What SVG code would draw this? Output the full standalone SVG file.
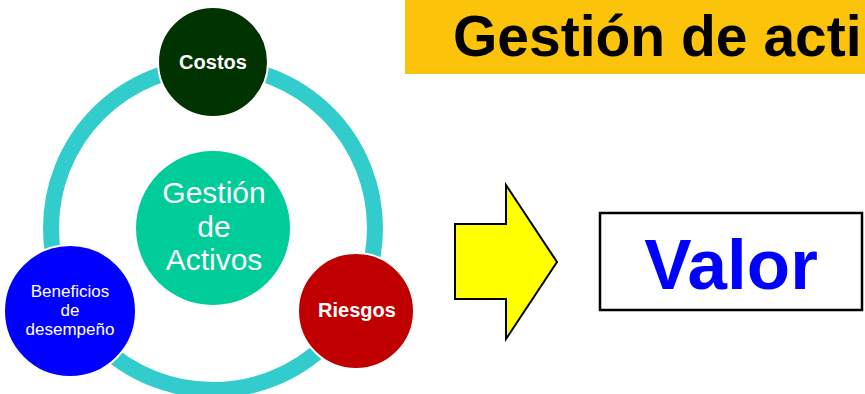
<svg xmlns="http://www.w3.org/2000/svg" width="865" height="394" viewBox="0 0 865 394">
<style>
.t{font-family:"Liberation Sans",Arial,sans-serif;text-anchor:middle}
.w{fill:#fff}
.b{font-weight:bold}
.node{stroke:#fff;stroke-width:2}
</style>
<rect width="865" height="394" fill="#fff"/>
<g id="title">
<rect x="405" y="0" width="460" height="74" fill="#FBC40A"/>
<text x="453" y="56" font-family="Liberation Sans,Arial,sans-serif" font-weight="bold" font-size="57" fill="#000">Gestión de acti</text>
</g>
<g id="connectors">
<circle cx="213" cy="228" r="162" fill="none" stroke="#33CCCC" stroke-width="16"/>
<polygon points="455,224 506,224 506,185 557,262 506,339 506,299 455,299" fill="#FFFF00" stroke="#000" stroke-width="2" stroke-linejoin="miter"/>
</g>
<g id="gestion">
<circle cx="213" cy="228" r="77" fill="#00CC99"/>
<text class="t w" font-size="30"><tspan x="214" y="203">Gestión</tspan><tspan x="214" y="237">de</tspan><tspan x="214" y="270">Activos</tspan></text>
</g>
<g id="costos">
<circle class="node" cx="213" cy="62" r="55" fill="#003300"/>
<text class="t w b" x="213" y="69" font-size="20">Costos</text>
</g>
<g id="riesgos">
<circle class="node" cx="356" cy="311" r="58" fill="#C00000"/>
<text class="t w b" x="357" y="317" font-size="20">Riesgos</text>
</g>
<g id="beneficios">
<circle class="node" cx="70" cy="311" r="66" fill="#0000FF"/>
<text class="t w" font-size="17"><tspan x="70" y="297">Beneficios</tspan><tspan x="70" y="316">de</tspan><tspan x="70" y="335">desempeño</tspan></text>
</g>
<g id="valor">
<rect x="600" y="213" width="262" height="97" fill="#fff" stroke="#000" stroke-width="2.5"/>
<text class="t b" x="731" y="289" font-size="71" fill="#0000FF">Valor</text>
</g>
</svg>
